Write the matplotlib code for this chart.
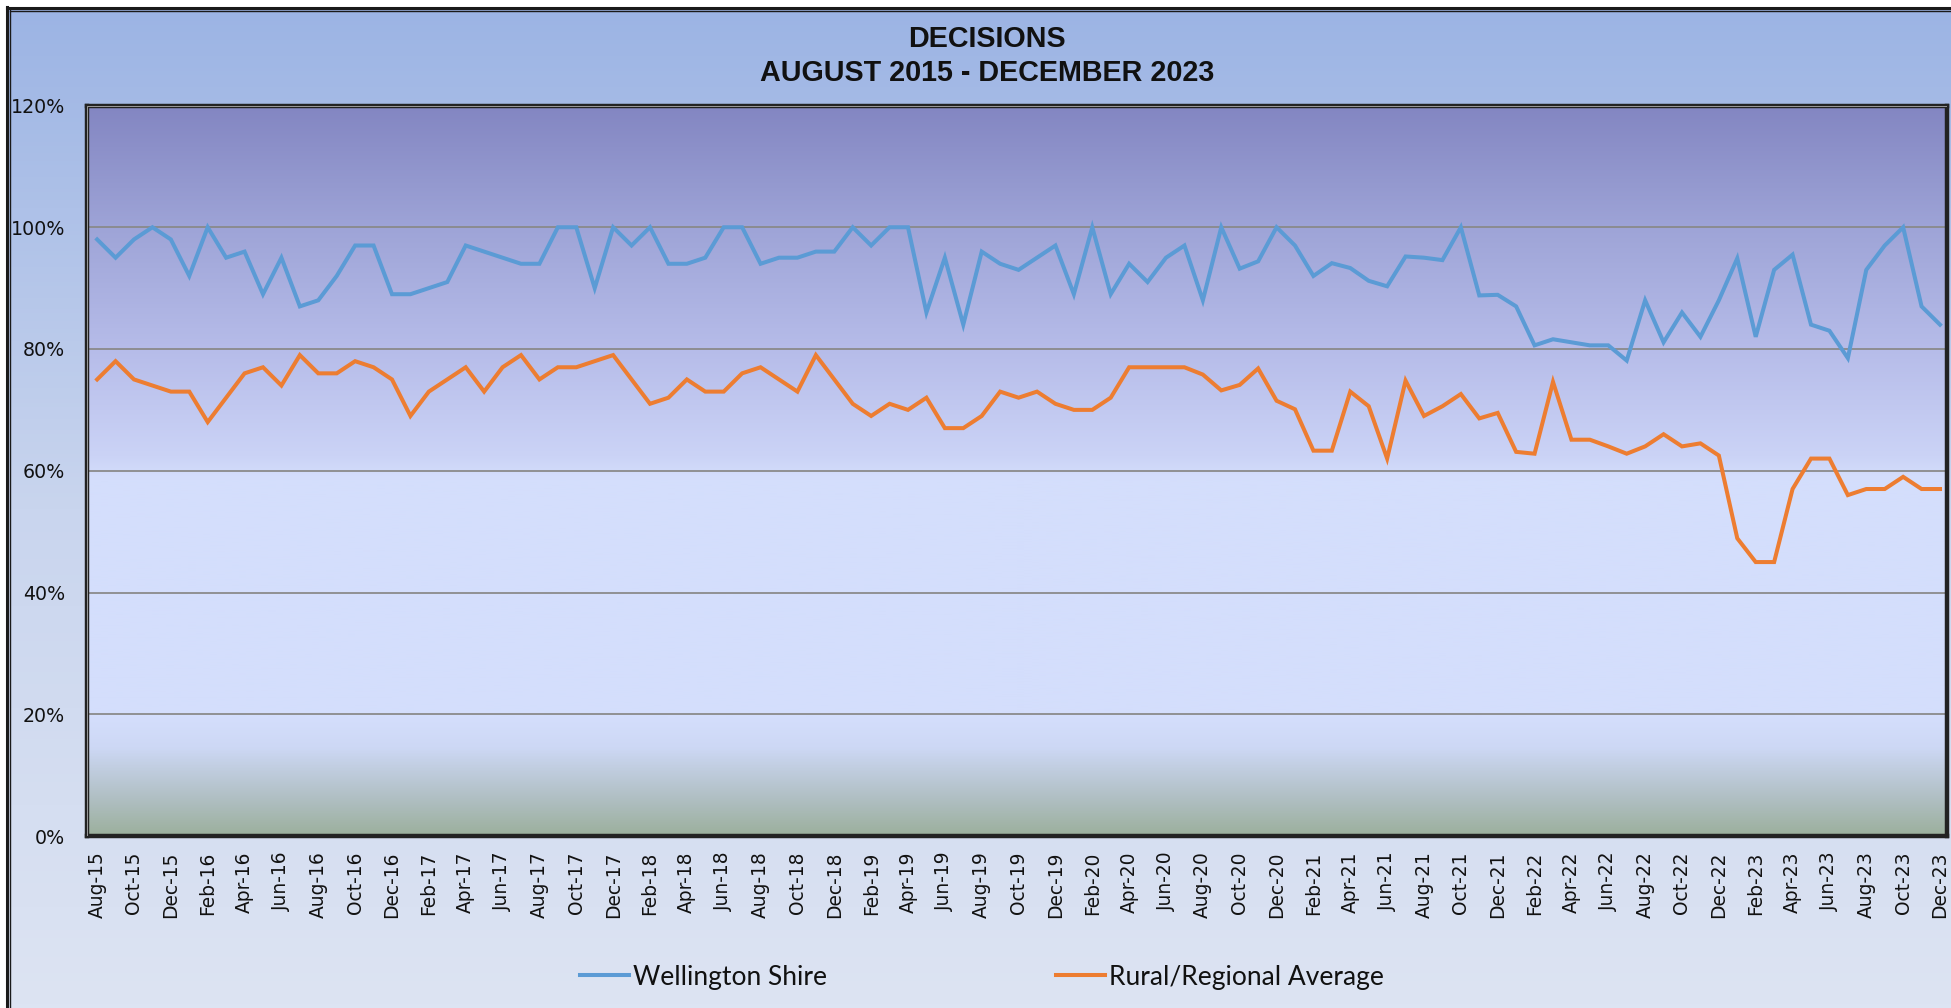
import numpy as np
import pandas as pd
import matplotlib
matplotlib.use("Agg")
import matplotlib.pyplot as plt
from matplotlib.colors import LinearSegmentedColormap
from matplotlib.lines import Line2D
from matplotlib.ticker import FuncFormatter

# ---------------- data ----------------
months = pd.date_range("2015-08-01", periods=101, freq="MS").strftime("%b-%y").tolist()

wellington = [
    98, 95, 98, 100, 98, 92, 100, 95, 96, 89, 95, 87, 88, 92, 97, 97, 89, 89, 90, 91,
    97, 96, 95, 94, 94, 100, 100, 90, 100, 97, 100, 94, 94, 95, 100, 100, 94, 95, 95, 96,
    96, 100, 97, 100, 100, 86, 95, 84, 96, 94, 93, 95, 97, 89, 100, 89, 94, 91, 95, 97,
    88, 100, 93.2, 94.4, 100, 97, 92, 94.1, 93.3, 91.2, 90.3, 95.2, 95, 94.6, 100, 88.8, 88.9, 87, 80.6, 81.6,
    81.1, 80.6, 80.6, 78.1, 88, 81.1, 86, 82, 88, 94.9, 82, 93, 95.5, 84, 83, 78.5, 93, 97, 100, 87,
    84,
]
rural = [
    75, 78, 75, 74, 73, 73, 68, 72, 76, 77, 74, 79, 76, 76, 78, 77, 75, 69, 73, 75,
    77, 73, 77, 79, 75, 77, 77, 78, 79, 75, 71, 72, 75, 73, 73, 76, 77, 75, 73, 79,
    75, 71, 69, 71, 70, 72, 67, 67, 69, 73, 72, 73, 71, 70, 70, 72, 77, 77, 77, 77,
    75.8, 73.2, 74.1, 76.8, 71.5, 70.1, 63.3, 63.3, 73, 70.6, 62, 74.8, 69, 70.6, 72.6, 68.6, 69.5, 63.1, 62.8, 74.6,
    65.1, 65.1, 64, 62.8, 64, 66, 64, 64.5, 62.5, 48.9, 45, 45, 57, 62, 62, 56, 57, 57, 59, 57,
    57,
]
series_names = ["Wellington Shire", "Rural/Regional Average"]
series_colors = ["#5B9BD5", "#ED7D31"]
title_lines = ["DECISIONS", "AUGUST 2015 - DECEMBER 2023"]
yticks = [0, 20, 40, 60, 80, 100, 120]

# ---------------- figure ----------------
W, H = 1951, 1008
fig = plt.figure(figsize=(W / 100, H / 100), dpi=100, facecolor="white")

# figure background gradient (chart area)
bg = fig.add_axes([7 / W, 0, 1 - 7 / W, 1 - 9 / H], zorder=-10)
bg_cmap = LinearSegmentedColormap.from_list("bg", ["#dde4f3", "#c9d5ee", "#9cb4e4"])
grad = np.linspace(0, 1, 256).reshape(-1, 1)
bg.imshow(grad, aspect="auto", cmap=bg_cmap, origin="lower", extent=[0, 1, 0, 1])
bg.set_axis_off()

# outer frame lines (left and top)
for xx, lw in [(6.5, 2.2), (10, 1.0)]:
    fig.add_artist(Line2D([xx / W, xx / W], [0, 1 - (7 if xx < 8 else 10) / H],
                          transform=fig.transFigure, color="#1a1a1a", lw=lw))
for yy, lw in [(7.5, 2.2), (11, 1.0)]:
    fig.add_artist(Line2D([(6.5 if yy < 9 else 10) / W, 1], [1 - yy / H, 1 - yy / H],
                          transform=fig.transFigure, color="#1a1a1a", lw=lw))

# plot area
L, R, T, B = 87, 1947, 105.5, 836
ax = fig.add_axes([L / W, 1 - B / H, (R - L) / W, (B - T) / H])
ax.set_facecolor("none")

plot_cmap = LinearSegmentedColormap.from_list(
    "plot",
    [
        (0.0, "#9cb09d"),
        (0.05, "#b0bfc3"),
        (0.12, "#cdd8f5"),
        (0.16, "#d4defc"),
        (0.49, "#d4defc"),
        (0.52, "#cbd3f6"),
        (0.667, "#b6bce9"),
        (0.833, "#9ea4d7"),
        (1.0, "#8386c2"),
    ],
)
ax.imshow(grad, aspect="auto", cmap=plot_cmap, origin="lower",
          extent=[0, 1, 0, 1], transform=ax.transAxes, zorder=0)

x = np.arange(len(months))
ax.set_xlim(-0.55, len(months) - 0.62)
ax.set_ylim(0, 120)

for v in yticks[1:-1]:
    ax.axhline(v, color="#8a8a8a", lw=1.3, zorder=1)

lines = []
for vals, name, col in zip([wellington, rural], series_names, series_colors):
    ln, = ax.plot(x, vals, color=col, lw=2.9, label=name, zorder=3,
                  solid_joinstyle="miter")
    lines.append(ln)

ax.set_yticks(yticks)
ax.yaxis.set_major_formatter(FuncFormatter(lambda v, p: f"{v:.0f}%"))
ax.set_xticks(x[::2])
ax.set_xticklabels(months[::2], rotation=90, va="top", ha="center")
ax.tick_params(axis="y", length=0, pad=16, labelsize=13.7, labelcolor="#111111")
ax.tick_params(axis="x", length=0, pad=11, labelsize=13.4, labelcolor="#111111")
for lab in ax.get_yticklabels() + ax.get_xticklabels():
    lab.set_fontfamily("DejaVu Sans")

for s in ax.spines.values():
    s.set_color("#222222")
    s.set_linewidth(3.2)
    s.set_zorder(5)
# inner lighter line for double frame look
ax.add_artist(plt.Rectangle((0, 0), 1, 1, transform=ax.transAxes, fill=False,
                            ec="#9a9a9a", lw=0.7, zorder=6))

# title
fig.text(987 / W, 1 - 39 / H, title_lines[0], ha="center", va="center",
         fontsize=20.7, fontweight="bold", family="Liberation Sans", color="#111111")
fig.text(987 / W, 1 - 73 / H, title_lines[1], ha="center", va="center",
         fontsize=20.7, fontweight="bold", family="Liberation Sans", color="#111111")

# legend
leg = fig.legend(handles=lines, labels=series_names, loc="center",
                 bbox_to_anchor=(982 / W, 1 - 977 / H), ncol=2, frameon=False,
                 prop={"family": "Lato", "size": 19}, handlelength=1.85,
                 handletextpad=0.15, columnspacing=8.7)
for t in leg.get_texts():
    t.set_color("#111111")

fig.savefig("out.png", dpi=100, facecolor="white")
